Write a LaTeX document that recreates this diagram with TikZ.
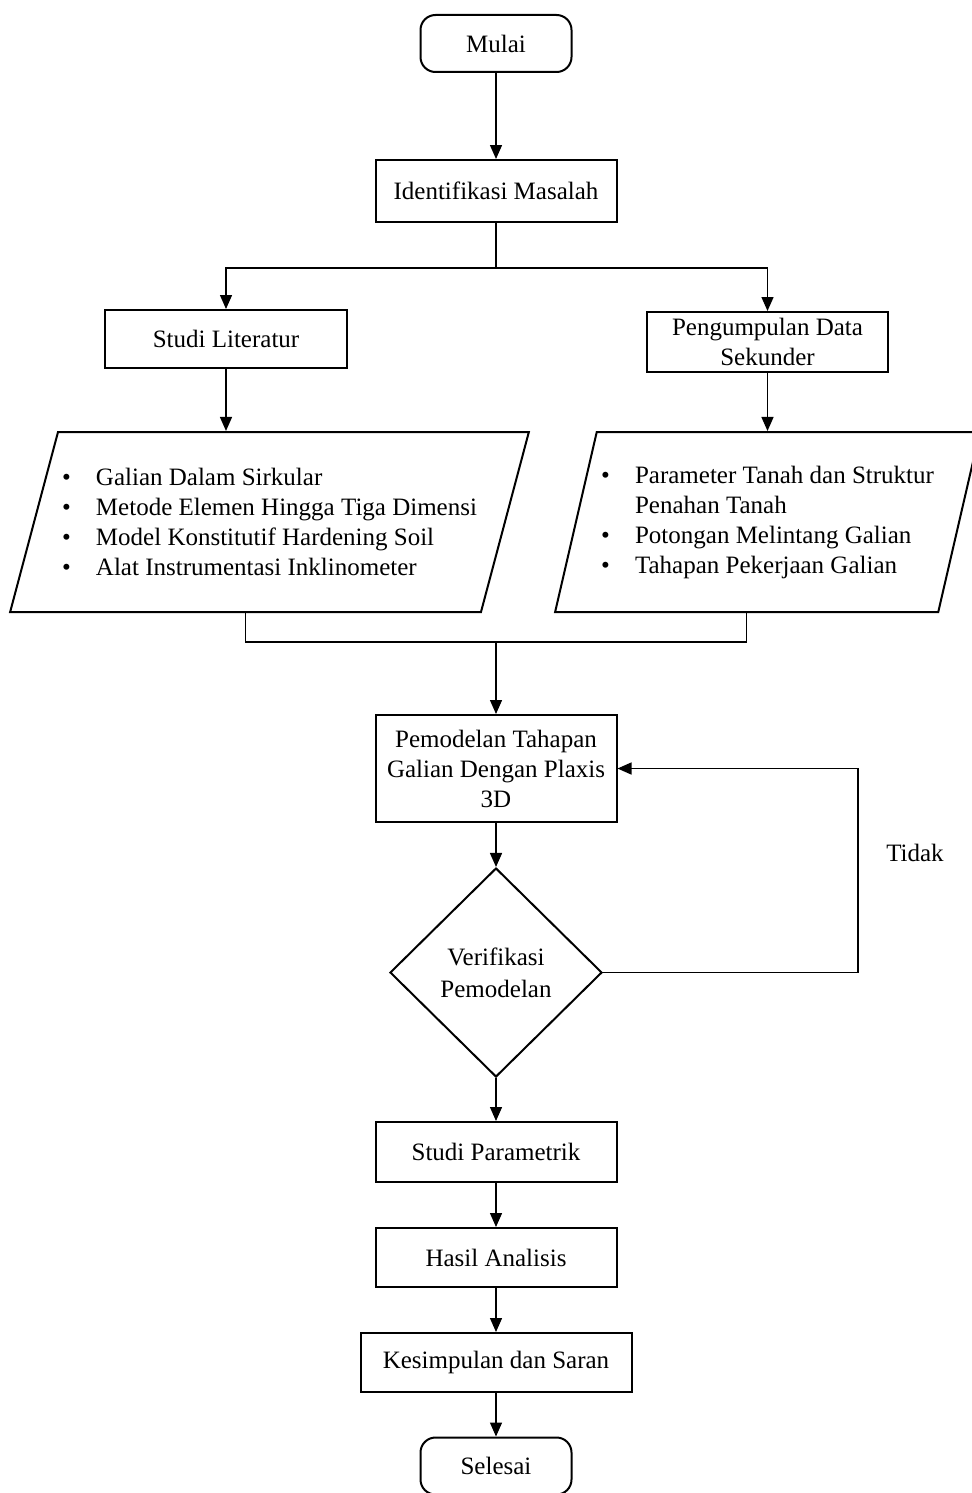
\documentclass[tikz,border=0pt]{standalone}
\usepackage{fontspec}
\setmainfont{Liberation Serif}
\usetikzlibrary{shapes.geometric, arrows.meta, positioning}

\tikzset{
  startstop/.style={draw, line width=1pt, rounded corners=7.5pt, minimum width=75.5pt, minimum height=28.5pt, inner sep=2pt},
  process/.style={draw, line width=1pt, minimum width=120.5pt, align=center, inner sep=2pt},
  io/.style={draw, line width=1pt, trapezium, trapezium stretches=true, align=left, inner sep=2pt},
  decision/.style={draw, line width=1pt, diamond, minimum width=106pt, minimum height=104.5pt, align=center, inner sep=0pt},
  arrow/.style={line width=0.7pt, -{Triangle[length=7pt,width=6pt]}},
  line/.style={line width=0.7pt}
}
\newcommand{\itm}{\makebox[17pt][l]{\textbullet}}
\newcommand{\itmcont}{\hspace*{17pt}}

\begin{document}
\begin{tikzpicture}[x=0.5pt, y=-0.5pt, font=\fontsize{12.5}{15}\selectfont]
\useasboundingbox (0,0) rectangle (971,1493);

% Start and problem
\node[startstop] (mulai) at (496,43.5) {Mulai};
\node[process, minimum height=31pt] (ident) at (496,191) {Identifikasi Masalah};

% Two branches
\node[process, minimum width=121pt, minimum height=29pt] (studi) at (226,339) {Studi Literatur};
\node[process, minimum height=30pt] (kumpul) at (767.5,342) {Pengumpulan Data\\Sekunder};

% Data blocks
\node[io, minimum width=257.5pt, minimum height=90pt, trapezium left angle=67.5, trapezium right angle=112.5] (lit) at (269.5,522)
  {\itm Galian Dalam Sirkular\\
   \itm Metode Elemen Hingga Tiga Dimensi\\
   \itm Model Konstitutif Hardening Soil\\
   \itm Alat Instrumentasi Inklinometer};
\node[io, minimum width=212.5pt, minimum height=90pt, trapezium left angle=71, trapezium right angle=109] (dat) at (767.5,522)
  {\itm Parameter Tanah dan Struktur\\
   \itmcont Penahan Tanah\\
   \itm Potongan Melintang Galian\\
   \itm Tahapan Pekerjaan Galian};

% Modelling and check
\node[process, minimum height=53.5pt] (model) at (496,768.5) {Pemodelan Tahapan\\Galian Dengan Plaxis\\3D};
\node[decision, font=\fontsize{12.5}{16}\selectfont] (verif) at (496,972.5) {Verifikasi\\Pemodelan};
\node (tidak) at (915,853) {Tidak};

% Final steps
\node[process, minimum height=30pt] (param) at (496,1152) {Studi Parametrik};
\node[process, minimum height=29.5pt] (hasil) at (496,1257.5) {Hasil Analisis};
\node[process, minimum width=135.5pt, minimum height=29.5pt] (simpul) at (496,1362.5) {Kesimpulan dan Saran};
\node[startstop] (selesai) at (496,1466) {Selesai};

% Connectors
\coordinate (split) at (496,268);
\coordinate (join) at (496,642);
\coordinate (back) at (858,972.5);

\draw[arrow] (mulai) -- (ident);
\draw[line] (ident) -- (split);
\draw[arrow] (split) -| (studi);
\draw[arrow] (split) -| (kumpul);
\draw[arrow] (studi.south) -- (studi.south |- lit.north);
\draw[arrow] (kumpul.south) -- (kumpul.south |- dat.north);
\draw[line] (lit.bottom side) |- (join) -| (dat.bottom side);
\draw[arrow] (join) -- (model);
\draw[arrow] (model) -- (verif);
\draw[arrow] (verif.east) -- (back) |- (model.east);
\draw[arrow] (verif) -- (param);
\draw[arrow] (param) -- (hasil);
\draw[arrow] (hasil) -- (simpul);
\draw[arrow] (simpul) -- (selesai);

\end{tikzpicture}
\end{document}
